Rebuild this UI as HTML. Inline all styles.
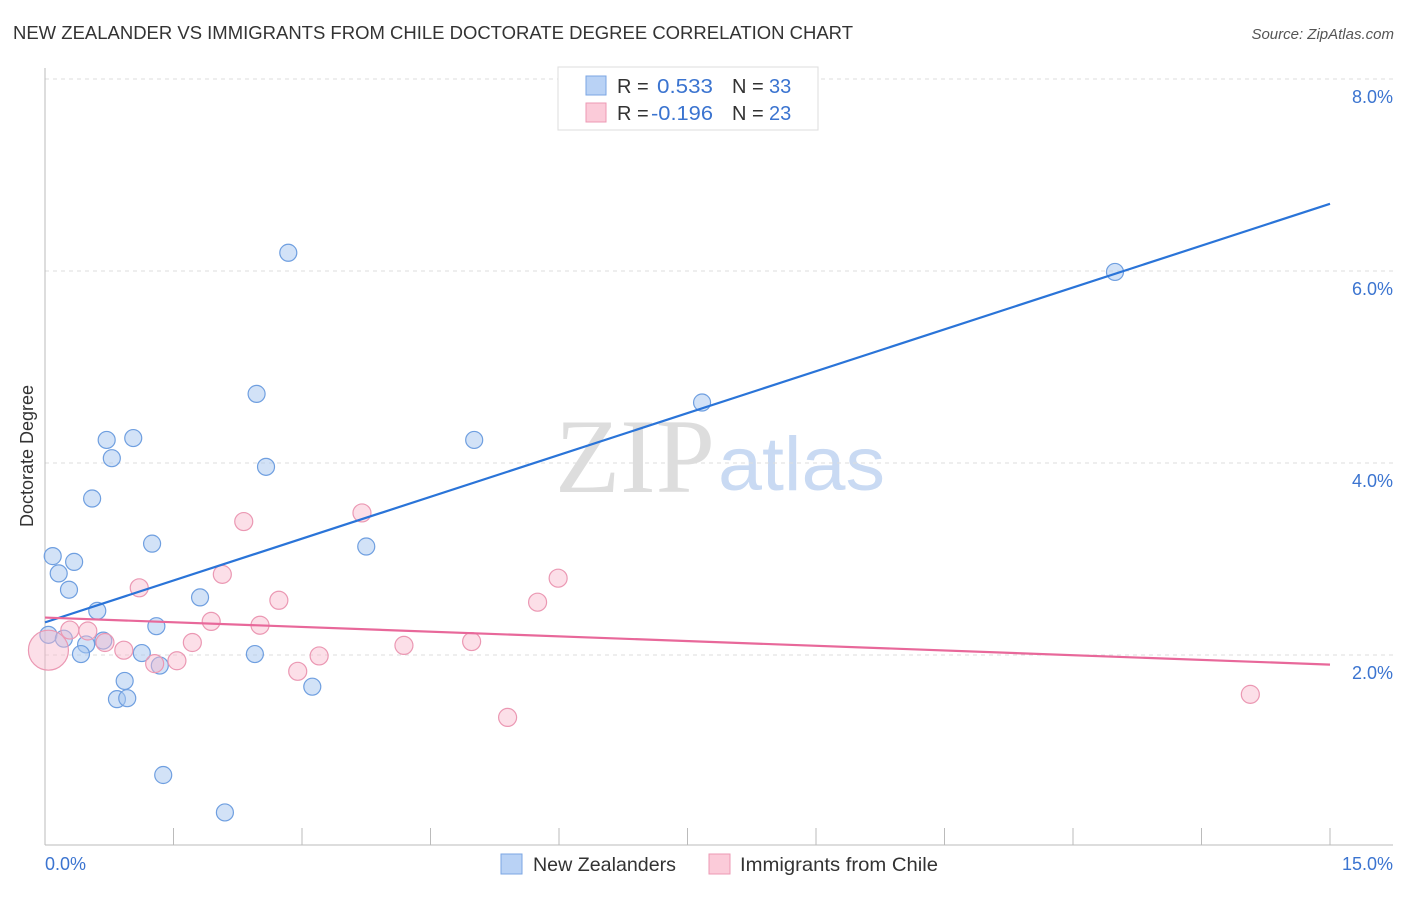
<!DOCTYPE html>
<html><head><meta charset="utf-8"><style>
body{margin:0;background:#fff;font-family:"Liberation Sans",sans-serif}
</style></head><body>
<svg id="c" width="1406" height="892" xmlns="http://www.w3.org/2000/svg">
<text x="13" y="39" font-size="18" fill="#333" textLength="840" lengthAdjust="spacingAndGlyphs">NEW ZEALANDER VS IMMIGRANTS FROM CHILE DOCTORATE DEGREE CORRELATION CHART</text>
<text x="1394" y="39" font-size="15" fill="#555" font-style="italic" text-anchor="end">Source: ZipAtlas.com</text>
<text x="555" y="492" font-size="106" font-family="Liberation Serif,serif" fill="#ddd" textLength="160" lengthAdjust="spacingAndGlyphs">ZIP</text>
<text x="718" y="490" font-size="76" fill="#c9daf3" textLength="167" lengthAdjust="spacingAndGlyphs">atlas</text>
<text transform="translate(33,456) rotate(-90)" font-size="18" fill="#333" text-anchor="middle">Doctorate Degree</text>
<g id="grid"></g><g id="pts"></g><g id="lines"></g>
<g>
<rect x="558" y="67" width="260" height="63" fill="#fff" stroke="#ddd"/>
<rect x="586" y="76" width="20" height="19" fill="#b9d2f5" stroke="#7ba6e3"/>
<rect x="586" y="103" width="20" height="19" fill="#fbcbd9" stroke="#ec9ab4"/>
<text x="617" y="93" font-size="20" fill="#333">R = </text>
<text x="657" y="93" font-size="20" fill="#3b74d0" textLength="56" lengthAdjust="spacingAndGlyphs">0.533</text>
<text x="732" y="93" font-size="20" fill="#333">N = </text>
<text x="769" y="93" font-size="20" fill="#3b74d0">33</text>
<text x="617" y="120" font-size="20" fill="#333">R = </text>
<text x="651" y="120" font-size="20" fill="#3b74d0" textLength="62" lengthAdjust="spacingAndGlyphs">-0.196</text>
<text x="732" y="120" font-size="20" fill="#333">N = </text>
<text x="769" y="120" font-size="20" fill="#3b74d0">23</text>
</g>
<rect x="501" y="854" width="21" height="20" fill="#b9d2f5" stroke="#7ba6e3"/>
<text x="533" y="871" font-size="19.5" fill="#333" textLength="143" lengthAdjust="spacingAndGlyphs">New Zealanders</text>
<rect x="709" y="854" width="21" height="20" fill="#fbcbd9" stroke="#ec9ab4"/>
<text x="740" y="871" font-size="19.5" fill="#333" textLength="198" lengthAdjust="spacingAndGlyphs">Immigrants from Chile</text>
</svg>
<script>
const xTicks=[0,1.5,3,4.5,6,7.5,9,10.5,12,13.5,15];
const yTicks=[2,4,6,8];
const yTickLabels=["2.0%","4.0%","6.0%","8.0%"];
const blueX=[2.84,2.47,0.72,1.03,0.78,5.01,7.67,12.49,2.58,0.55,1.25,3.75,0.09,0.34,0.16,0.28,0.61,1.81,1.30,0.04,0.22,0.48,0.68,1.13,0.42,2.45,1.34,0.93,0.84,0.96,3.12,1.38,2.10];
const blueY=[6.19,4.72,4.24,4.26,4.05,4.24,4.63,5.99,3.96,3.63,3.16,3.13,3.03,2.97,2.85,2.68,2.46,2.60,2.30,2.21,2.17,2.11,2.15,2.02,2.01,2.01,1.89,1.73,1.54,1.55,1.67,0.75,0.36];
const pinkX=[0.04,2.32,3.70,2.07,5.99,1.10,2.73,5.75,1.94,2.51,0.29,0.50,0.70,1.72,0.92,4.19,4.98,3.20,1.54,1.28,2.95,5.40,14.07];
const pinkY=[2.05,3.39,3.48,2.84,2.80,2.70,2.57,2.55,2.35,2.31,2.26,2.25,2.13,2.13,2.05,2.10,2.14,1.99,1.94,1.91,1.83,1.35,1.59];
const pinkR=[20,9,9,9,9,9,9,9,9,9,9,9,9,9,9,9,9,9,9,9,9,9,9];
const blueTrend=[2.34,6.70];
const pinkTrend=[2.39,1.90];
const NS="http://www.w3.org/2000/svg";
const xs=v=>45+v/15*1285, ys=v=>847-v*96;
function mk(p,t,a){const e=document.createElementNS(NS,t);for(const k in a)e.setAttribute(k,a[k]);p.appendChild(e);return e;}
const svg=document.getElementById('c'),grid=document.getElementById('grid'),pts=document.getElementById('pts'),lines=document.getElementById('lines');
yTicks.forEach((t,i)=>{
 const l=mk(grid,'line',{x1:45,x2:1393,y1:ys(t),y2:ys(t),stroke:'#ddd','stroke-dasharray':'4,4'});
 
 
 const tx=mk(grid,'text',{x:1393,y:ys(t)+24,'font-size':18,fill:'#3b74d0','text-anchor':'end'});tx.textContent=yTickLabels[i];
 
 
});
const ax=mk(grid,'line',{x1:45,x2:45,y1:68,y2:845,stroke:'#bbb'});


const bx=mk(grid,'line',{x1:45,x2:1393,y1:845,y2:845,stroke:'#bbb'});


xTicks.forEach(t=>{const l=mk(grid,'line',{x1:xs(t),x2:xs(t),y1:828,y2:845,stroke:'#bbb'});
 
 });
const x0=mk(grid,'text',{x:45,y:870,'font-size':18,fill:'#3b74d0'});x0.textContent='0.0%';


const x1=mk(grid,'text',{x:1393,y:870,'font-size':18,fill:'#3b74d0','text-anchor':'end'});x1.textContent='15.0%';


blueX.forEach((v,i)=>{const c=mk(pts,'circle',{cx:xs(v),cy:ys(blueY[i]),r:8.5,fill:'rgba(165,198,240,0.5)',stroke:'#6f9fe0','stroke-width':1.2});
 
 });
pinkX.forEach((v,i)=>{const c=mk(pts,'circle',{cx:xs(v),cy:ys(pinkY[i]),r:pinkR[i],fill:'rgba(248,185,205,0.45)',stroke:'#eb98b3','stroke-width':1.2});
 
 });
const bl=mk(lines,'line',{x1:xs(0),y1:ys(blueTrend[0]),x2:xs(15),y2:ys(blueTrend[1]),stroke:'#2a74d8','stroke-width':2.2});


const pl=mk(lines,'line',{x1:xs(0),y1:ys(pinkTrend[0]),x2:xs(15),y2:ys(pinkTrend[1]),stroke:'#e8689a','stroke-width':2.2});


</script>
</body></html>
